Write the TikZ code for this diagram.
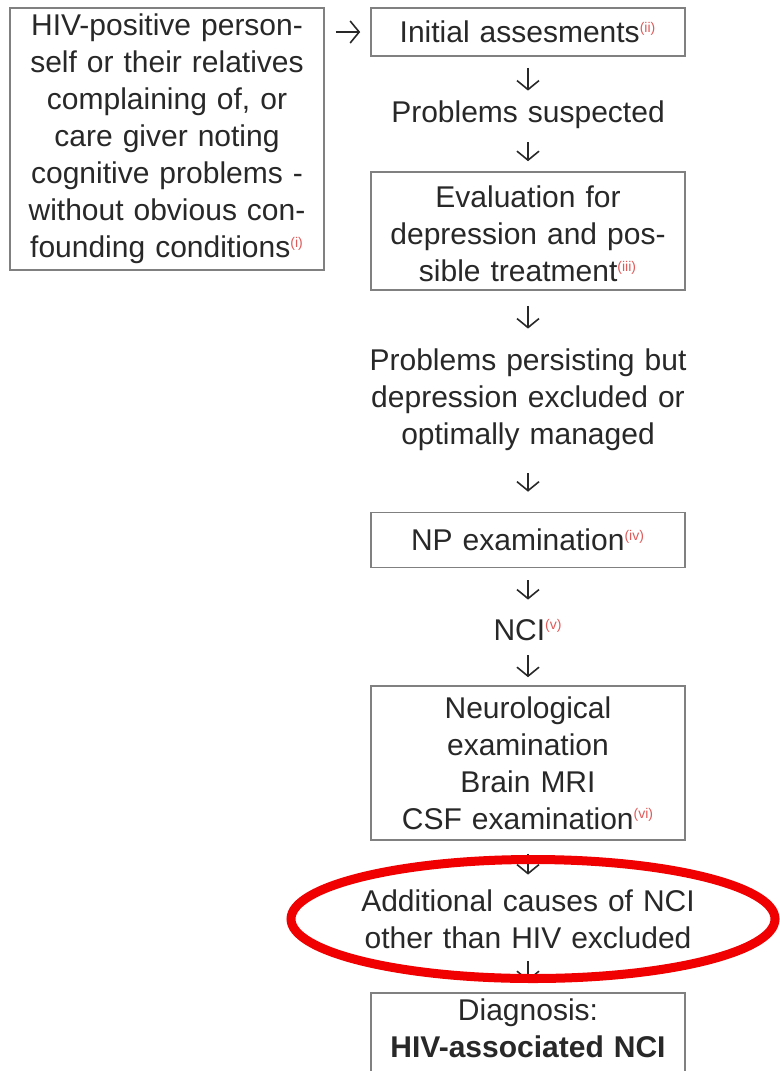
\documentclass[tikz,border=0pt]{standalone}
\usepackage{fontspec}
\setmainfont{Liberation Sans}
\usetikzlibrary{arrows.meta}
\definecolor{boxgray}{RGB}{128,128,128}
\definecolor{inkgray}{RGB}{40,40,40}
\definecolor{refred}{RGB}{225,90,90}
\definecolor{ringred}{RGB}{240,0,0}
\newcommand{\refmark}[1]{\textsuperscript{\fontsize{7pt}{7pt}\selectfont\color{refred}(#1)}}

\begin{document}
\begin{tikzpicture}[x=0.5pt, y=-0.5pt,
squarednode/.style={rectangle, draw=boxgray, line width=0.8pt, fill=white, text=inkgray, text width=150pt, inner xsep=3.5pt, inner ysep=0pt, align=center, font=\fontsize{15pt}{18.5pt}\selectfont},
plainnode/.style={text=inkgray, text width=170pt, inner sep=0pt, align=center, font=\fontsize{15pt}{18.5pt}\selectfont},
flowarrow/.style 2 args={draw=inkgray, line width=0.8pt, -{Straight Barb[length=4.5pt, width=11pt]}, shorten <=#1, shorten >=#2},
markring/.style={draw=ringred, line width=4.5pt},
]
\useasboundingbox (0,0) rectangle (780,1071);
% left box and main column
\node[squarednode, minimum height=131pt] (person) at (167,139) {HIV-positive person-\\ self or their relatives\\ complaining of, or\\ care giver noting\\ cognitive problems -\\ without obvious con-\\ founding conditions\refmark{i}};
\node[squarednode, minimum height=24pt]   (initial)  at (528,32)  {Initial assesments\refmark{ii}};
\node[plainnode, minimum height=20pt]     (suspect)  at (528,115) {Problems suspected};
\node[squarednode, minimum height=59pt]   (depress)  at (528,231) {\rule{0pt}{14pt}Evaluation for\\ depression and pos-\\ sible treatment\refmark{iii}};
\node[plainnode, minimum height=55pt]     (persist)  at (528,400) {Problems persisting but\\ depression excluded or\\ optimally managed};
\node[squarednode, minimum height=27.5pt] (npexam)   at (528,540) {NP examination\refmark{iv}};
\node[plainnode, minimum height=20pt]     (nci)      at (528,630) {NCI\refmark{v}};
\node[squarednode, minimum height=77pt]   (neuro)    at (528,763) {Neurological\\ examination\\ Brain MRI\\ CSF examination\refmark{vi}};
\node[plainnode, minimum height=36pt]     (excluded) at (528,919) {Additional causes of NCI\\ other than HIV excluded};
\node[squarednode, minimum height=41pt]   (diagnosis) at (528,1034) {Diagnosis:\\ \textbf{HIV-associated NCI}\rule[-6pt]{0pt}{6pt}};

% arrows
\draw[flowarrow={5.5pt}{5pt}] (initial.west -| person.east) -- (initial.west);
\draw[flowarrow={5.5pt}{2pt}] (initial) -- (suspect);
\draw[flowarrow={3.5pt}{5pt}] (suspect) -- (depress);
\draw[flowarrow={7.5pt}{8pt}] (depress) -- (persist);
\draw[flowarrow={9pt}{10pt}] (persist) -- (npexam);
\draw[flowarrow={6pt}{5pt}] (npexam) -- (nci);
\draw[flowarrow={2.5pt}{4pt}] (nci) -- (neuro);
\draw[flowarrow={6.5pt}{4pt}] (neuro) -- (excluded);
\draw[flowarrow={3pt}{5.5pt}] (excluded) -- (diagnosis);

% red ring
\draw[markring] (excluded.center) ++(5,0) ellipse [x radius=242, y radius=59.5];
\end{tikzpicture}
\end{document}
